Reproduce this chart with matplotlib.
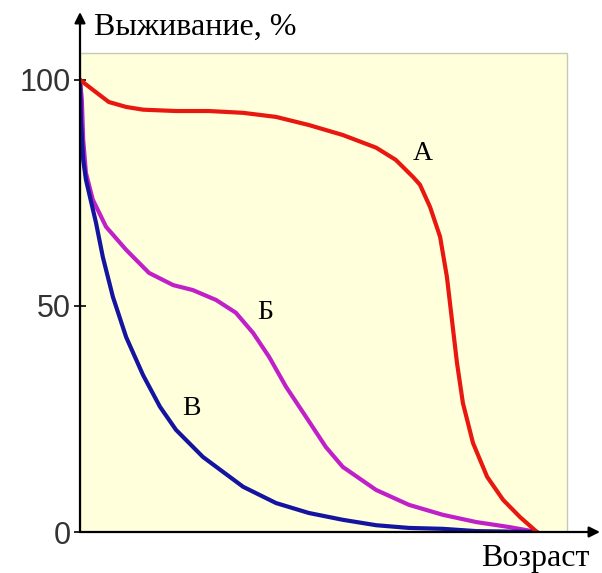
import matplotlib.pyplot as plt
from matplotlib.patches import Rectangle

# survival curves, x = age (% of max lifespan), y = survival %
a_x = [0, 2.8, 6.3, 10.1, 13.8, 21.0, 28.2, 35.7, 42.9, 50.1, 57.5, 64.8, 69.1, 72.9, 74.4, 76.6, 78.8,
       80.3, 81.4, 82.5, 83.8, 86.0, 89.1, 92.6, 96.3, 100]
a_y = [100, 97.8, 95.1, 94.0, 93.4, 93.1, 93.1, 92.7, 91.8, 90.0, 87.8, 85.0, 82.3, 78.5, 76.8, 71.9, 65.3,
       56.4, 46.9, 37.4, 28.5, 19.7, 12.2, 7.1, 3.3, 0]

b_x = [0, 0.4, 0.7, 1.3, 2.8, 5.7, 10.1, 15.1, 20.4, 24.7, 29.8, 34.1, 37.9, 41.4, 45.1, 49.5, 53.8,
       57.5, 64.8, 72.0, 79.4, 86.7, 93.9, 100]
b_y = [100, 95.6, 86.7, 79.4, 73.5, 67.5, 62.4, 57.3, 54.6, 53.5, 51.3, 48.5, 44.0, 38.7, 32.1, 25.4, 18.8,
       14.4, 9.3, 6.0, 3.8, 2.2, 1.1, 0]

c_x = [0, 0.2, 0.7, 1.3, 3.5, 5.0, 7.2, 10.1, 13.8, 17.5, 21.0, 26.9, 35.7, 42.9, 50.1, 57.5, 64.8,
       72.0, 79.4, 86.7, 100]
c_y = [100, 91.2, 82.3, 77.9, 68.4, 60.8, 52.0, 43.1, 34.7, 27.7, 22.6, 16.6, 10.0, 6.4, 4.2, 2.7, 1.5,
       0.9, 0.7, 0.2, 0]

yticks = [0, 50, 100]
labels = ['А', 'Б', 'В']

fig = plt.figure(figsize=(6.02, 5.73), dpi=100)
ax = fig.add_axes([80 / 602, 41 / 573, 520 / 602, 520 / 573])
ax.set_xlim(0, 113.8)
ax.set_ylim(0, 115)
for s in ax.spines.values():
    s.set_visible(False)

ax.add_patch(Rectangle((0, 0), 106.6, 106, facecolor='#ffffdc', edgecolor='#c8c8b4', lw=1, zorder=0))

ax.plot(a_x, a_y, color='#e81810', lw=3, solid_capstyle='round', solid_joinstyle='round', zorder=3)
ax.plot(b_x, b_y, color='#c020c8', lw=3, solid_capstyle='round', solid_joinstyle='round', zorder=2)
ax.plot(c_x, c_y, color='#1414a0', lw=3, solid_capstyle='round', solid_joinstyle='round', zorder=2)

serif = 'Liberation Serif'
ax.text(75.1, 83.8, labels[0], fontsize=20, family=serif, ha='center', va='center')
ax.text(40.5, 48.5, labels[1], fontsize=20, family=serif, ha='center', va='center')
ax.text(24.3, 27.4, labels[2], fontsize=20, family=serif, ha='center', va='center')

# axes with arrows
ax.annotate('', xy=(0, 115), xytext=(0, 0),
            arrowprops=dict(arrowstyle='-|>', color='black', lw=1.6, mutation_scale=16, shrinkA=0, shrinkB=0),
            annotation_clip=False)
ax.annotate('', xy=(113.8, 0), xytext=(0, 0),
            arrowprops=dict(arrowstyle='-|>', color='black', lw=1.6, mutation_scale=16, shrinkA=0, shrinkB=0),
            annotation_clip=False)

ax.set_xticks([])
ax.set_yticks(yticks)
ax.set_yticklabels([str(t) for t in yticks], fontsize=22, family='Liberation Sans', color='#333333')
ax.tick_params(axis='y', direction='inout', length=9, width=1.2, pad=2)

ax.text(3.0, 110, 'Выживание, %', fontsize=23, family=serif, va='baseline', clip_on=False)
ax.text(87.8, -7.5, 'Возраст', fontsize=23, family=serif, va='baseline', clip_on=False)

fig.savefig('out.png', dpi=100)
